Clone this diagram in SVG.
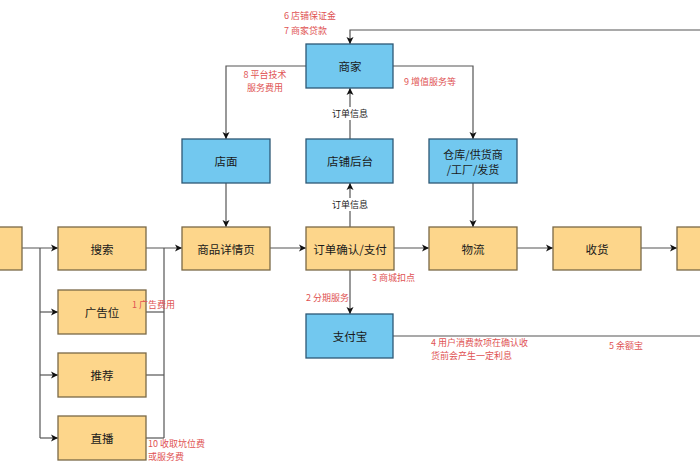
<svg xmlns="http://www.w3.org/2000/svg" width="700" height="470" viewBox="0 0 700 470">
<defs>
<marker id="arr" markerWidth="8" markerHeight="8" refX="7" refY="4" orient="auto" markerUnits="userSpaceOnUse">
<path d="M0,0.5 L7,4 L0,7.5 L1.8,4 Z" fill="#111"/>
</marker>
<style>
.o{fill:#fdd68b;stroke:#7a6947;stroke-width:1.3}
.b{fill:#72c8ef;stroke:#2d5875;stroke-width:1.3}
.t{font-family:"Noto Sans CJK SC","Noto Sans",sans-serif;font-size:11.5px;fill:#1a1a1a;text-anchor:middle;dominant-baseline:central}
.t2{font-family:"Noto Sans CJK SC","Noto Sans",sans-serif;font-size:11px;fill:#1a1a1a;text-anchor:middle;dominant-baseline:central}
.r{font-family:"Noto Sans CJK SC","Noto Sans",sans-serif;font-size:9px;fill:#e05353}
.k{font-family:"Noto Sans CJK SC","Noto Sans",sans-serif;font-size:9px;fill:#222;text-anchor:middle;dominant-baseline:central}
.l{fill:none;stroke:#555;stroke-width:1.2}
.la{fill:none;stroke:#555;stroke-width:1.2;marker-end:url(#arr)}
</style>
</defs>
<rect width="700" height="470" fill="#fff"/>
<g id="connectors">
<path class="la" d="M22,248 H58"/>
<path class="l" d="M40,248 V438"/>
<path class="la" d="M40,312 H58"/>
<path class="la" d="M40,375 H58"/>
<path class="la" d="M40,438 H58"/>
<path class="la" d="M146,248 H182"/>
<path class="l" d="M164,248 V438"/>
<path class="l" d="M146,312 H164"/>
<path class="l" d="M146,375 H164"/>
<path class="l" d="M146,438 H164"/>
<path class="la" d="M270,248 H306"/>
<path class="la" d="M394,248 H429"/>
<path class="la" d="M517,248 H553"/>
<path class="la" d="M641,248 H677"/>
<path class="la" d="M350,227 V183"/>
<path class="la" d="M350,139 V88"/>
<path class="la" d="M306,66 H226 V139"/>
<path class="la" d="M393,66 H473 V139"/>
<path class="la" d="M226,183 V227"/>
<path class="la" d="M473,183 V227"/>
<path class="la" d="M350,270 V314"/>
<path class="la" d="M702,30 H350 V44"/>
<path class="l" d="M393,336 H702"/>
<rect x="331" y="107" width="38" height="13" fill="#fff"/>
<text class="k" x="350" y="113">订单信息</text>
<rect x="331" y="198" width="38" height="13" fill="#fff"/>
<text class="k" x="350" y="204">订单信息</text>
</g>
<g id="node-left"><rect class="o" x="-20" y="227" width="42" height="43"/></g>
<g id="node-search"><rect class="o" x="58" y="227" width="88" height="43"/><text class="t" x="102" y="248.5">搜索</text></g>
<g id="node-ad"><rect class="o" x="58" y="290" width="88" height="44"/><text class="t" x="102" y="312">广告位</text></g>
<g id="node-rec"><rect class="o" x="58" y="353" width="88" height="44"/><text class="t" x="102" y="375">推荐</text></g>
<g id="node-live"><rect class="o" x="58" y="416" width="88" height="44"/><text class="t" x="102" y="438">直播</text></g>
<g id="node-detail"><rect class="o" x="182" y="227" width="88" height="43"/><text class="t" x="226" y="248.5">商品详情页</text></g>
<g id="node-order"><rect class="o" x="306" y="227" width="88" height="43"/><text class="t" x="350" y="248.5">订单确认/支付</text></g>
<g id="node-logistics"><rect class="o" x="429" y="227" width="88" height="43"/><text class="t" x="473" y="248.5">物流</text></g>
<g id="node-receive"><rect class="o" x="553" y="227" width="88" height="43"/><text class="t" x="597" y="248.5">收货</text></g>
<g id="node-right"><rect class="o" x="677" y="227" width="50" height="43"/></g>
<g id="node-merchant"><rect class="b" x="306" y="44" width="87" height="44"/><text class="t" x="350" y="66">商家</text></g>
<g id="node-store"><rect class="b" x="182" y="139" width="88" height="44"/><text class="t" x="226" y="161">店面</text></g>
<g id="node-backend"><rect class="b" x="306" y="139" width="87" height="44"/><text class="t" x="350" y="161">店铺后台</text></g>
<g id="node-warehouse"><rect class="b" x="429" y="139" width="88" height="44"/><text class="t2" x="473" y="154">仓库/供货商</text><text class="t2" x="473" y="169">/工厂/发货</text></g>
<g id="node-alipay"><rect class="b" x="306" y="314" width="87" height="44"/><text class="t" x="350" y="336">支付宝</text></g>
<g id="labels">
<text class="r" x="284" y="19">6 店铺保证金</text>
<text class="r" x="284" y="34">7 商家贷款</text>
<text class="r" x="265" y="78" text-anchor="middle">8 平台技术</text>
<text class="r" x="265" y="91" text-anchor="middle">服务费用</text>
<text class="r" x="404" y="85">9 增值服务等</text>
<text class="r" x="372" y="281">3 商城扣点</text>
<text class="r" x="306" y="301">2 分期服务</text>
<text class="r" x="132" y="308">1 广告费用</text>
<text class="r" x="148" y="447">10 收取坑位费</text>
<text class="r" x="148" y="460">或服务费</text>
<text class="r" x="431" y="346">4 用户消费款项在确认收</text>
<text class="r" x="431" y="359">货前会产生一定利息</text>
<text class="r" x="609" y="349">5 余额宝</text>
</g>
</svg>
